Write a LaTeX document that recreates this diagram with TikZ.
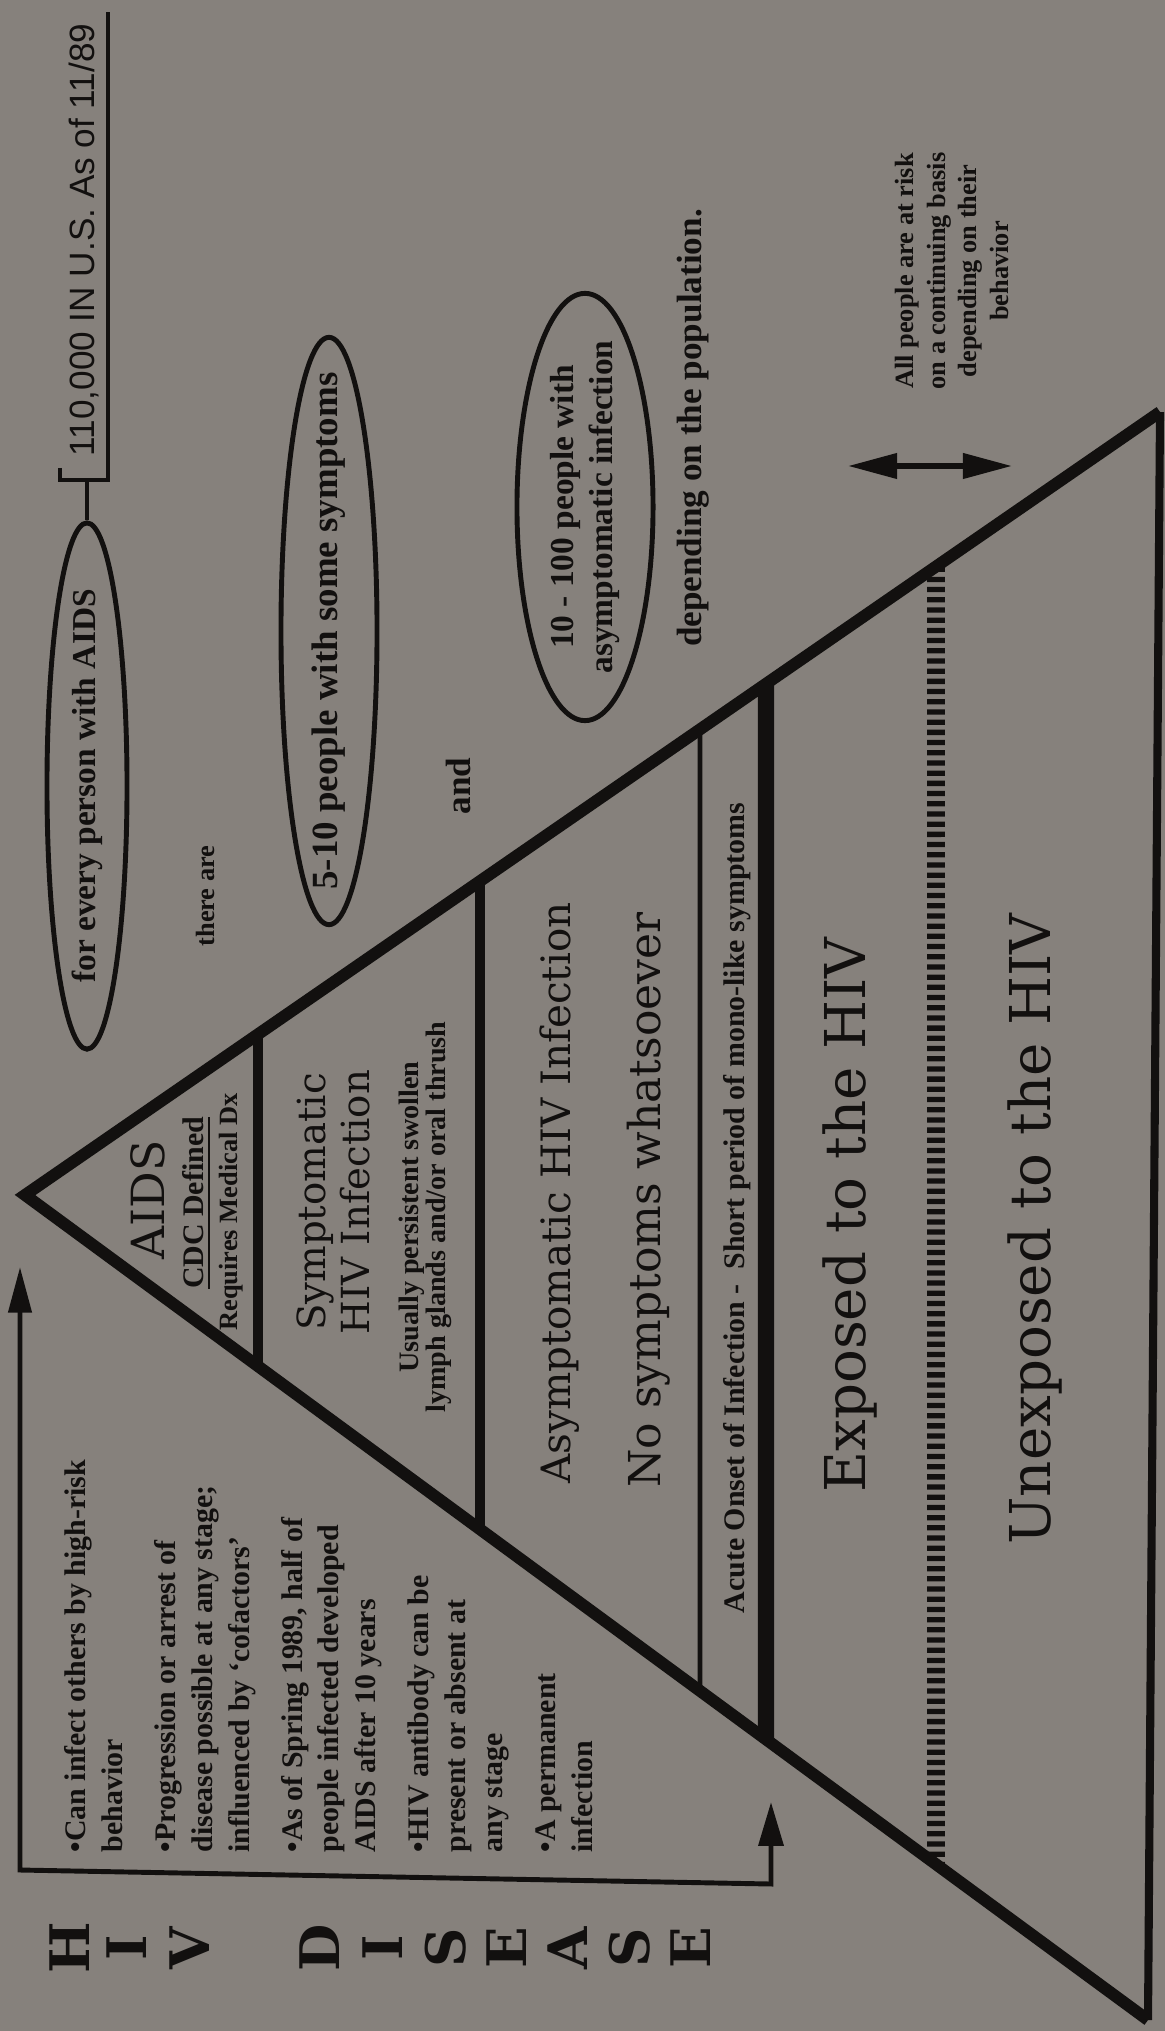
\documentclass[tikz,border=0pt]{standalone}
\usepackage{fontspec}
\setmainfont{Liberation Serif}
\newfontfamily\wideserif{DejaVu Serif}
\newfontfamily\handfont{Liberation Sans}
\usetikzlibrary{calc,arrows.meta,shapes.geometric}
\definecolor{scangray}{RGB}{134,129,124}
\definecolor{ink}{RGB}{18,16,15}
\newcommand\fsz[2]{\fontsize{#1}{#2}\selectfont}

\tikzset{
  vtext/.style={rotate=90, inner sep=0pt, align=center, text=ink},
  bubble/.style={ellipse, draw=ink, line width=1.4pt, rotate=90, inner sep=0pt},
  edge/.style={draw=ink, line width=3.4pt},
  bracketline/.style={draw=ink, line width=1.4pt},
}

\begin{document}
\begin{tikzpicture}[x=0.01cm, y=-0.01cm]
\fill[scangray] (0,0) rectangle (1165,2031);
\useasboundingbox (0,0) rectangle (1165,2031);

% corners of the pyramid
\coordinate (apex) at (25,1195);
\coordinate (top) at (1160,412);
\coordinate (bot) at (1148,2020);

% layer boundaries
\foreach \xx/\lw in {258/2.8pt, 480/2.8pt, 700/1.4pt, 766/4.6pt}{
  \pgfmathsetmacro\tu{(\xx-25)/1135}
  \pgfmathsetmacro\tl{(\xx-25)/1123}
  \draw[ink, line width=\lw] ($(apex)!\tu!(top)$) -- ($(apex)!\tl!(bot)$);
}
% exposed / unexposed
\draw[ink, line width=5pt, dash pattern=on 1.5pt off 1.4pt] ($(apex)!0.8026!(top)$) -- ($(apex)!0.8112!(bot)$);

\draw[edge] (top) -- (apex) -- (bot);
\draw[ink, line width=2.3pt] (top) -- (bot);

% inside the pyramid
\node[vtext, font=\wideserif\fsz{13}{15}] (aids) at (148,1200) {AIDS};
\node[vtext, font=\bfseries\fsz{8.5}{10}] (cdc) at (197,1203) {\underline{CDC Defined}};
\node[vtext, font=\bfseries\fsz{7.5}{9}] (medic) at (231,1212) {Requires Medical Dx};

\node[vtext, font=\wideserif\fsz{11}{12.5}] (symp) at (333,1202) {Symptomatic\\HIV Infection};
\node[vtext, font=\bfseries\fsz{8}{7.6}] (glands) at (425,1217) {Usually persistent swollen\\lymph glands and/or oral thrush};

\node[vtext, font=\wideserif\fsz{11.5}{13}] (asymp) at (560,1193) {Asymptomatic HIV Infection};
\node[vtext, font=\wideserif\fsz{12.5}{14}] (nosymp) at (649,1200) {No symptoms whatsoever};

\node[vtext, font=\bfseries\fsz{8.5}{10}] (acute) at (737,1208) {Acute Onset of Infection - \ Short period of mono-like symptoms};

\node[vtext, font=\wideserif\fsz{16}{18}] (exposed) at (850,1215) {Exposed to the HIV};
\node[vtext, font=\wideserif\fsz{16}{18}] (unexp) at (1035,1229) {Unexposed to the HIV};

% ratios at the top
\node[bubble, minimum width=5.26cm, minimum height=0.8cm] (ring1) at (87,786) {};
\node[vtext, font=\bfseries\fsz{9.5}{11}] (perperson) at (ring1.center) {for every person with AIDS};
\coordinate (brk) at (87,480);
\draw[bracketline] (ring1.east) -- (brk);
\draw[bracketline] (60,468) -- (60,480) -- (108,480) -- (108,12);
\node[vtext, font=\handfont\fsz{10}{12}] (usa) at (84,240) {110,000 IN U.S. As of 11/89};

\node[vtext, font=\bfseries\fsz{7.5}{9}] (thereare) at (205,896) {there are};

\node[bubble, minimum width=5.87cm, minimum height=0.96cm] (ring2) at (329,631) {};
\node[vtext, font=\bfseries\fsz{10.5}{12}] (fiveten) at (ring2.center) {5-10 people with some symptoms};

\node[vtext, font=\bfseries\fsz{10}{12}] (andword) at (458,786) {and};

\node[bubble, minimum width=4.27cm, minimum height=1.36cm] (ring3) at (585,507) {};
\node[vtext, font=\bfseries\fsz{9.5}{11}] (tenhund) at (ring3.center) {10 - 100 people with\\asymptomatic infection};

\node[vtext, font=\bfseries\fsz{10}{12}] (depend) at (693,428) {depending on the population.};

% risk note
\coordinate (riskL) at (848,466);
\coordinate (riskR) at (1012,466);
\draw[ink, line width=1.6pt, {Triangle[length=14pt,width=7pt]}-{Triangle[length=14pt,width=7pt]}] (riskL) -- (riskR);
\node[vtext, font=\bfseries\fsz{7.5}{9}] (allrisk) at (952,271) {All people are at risk\\on a continuing basis\\depending on their\\behavior};

% HIV disease bracket
\coordinate (hivtop) at (20,1267);
\coordinate (lb) at (20,1870);
\coordinate (rb) at (771,1884);
\coordinate (acutetip) at (771,1802);
\draw[bracketline, {Triangle[length=13pt,width=6.5pt]}-{Triangle[length=12.5pt,width=7pt]}] (hivtop) -- (lb) -- (rb) -- (acutetip);

\node[vtext, anchor=north west, align=left, font=\bfseries\fsz{8.5}{10.5}] (notes) at (64,1853)
  {\textbullet Can infect others by high-risk\\behavior\\[4.5pt]
   \textbullet Progression or arrest of\\disease possible at any stage;\\influenced by `cofactors'\\[4.5pt]
   \textbullet As of Spring 1989, half of\\people infected developed\\AIDS after 10 years\\[4.5pt]
   \textbullet HIV antibody can be\\present or absent at\\any stage\\[4.5pt]
   \textbullet A permanent\\infection};

\foreach \ch/\xx in {H/70, I/127, V/190, D/320, I/383, S/446, E/507, A/568, S/630, E/691}
  \node[vtext, font=\wideserif\bfseries\fsz{15.5}{17}] (let\xx) at (\xx,1948) {\ch};
\end{tikzpicture}
\end{document}
